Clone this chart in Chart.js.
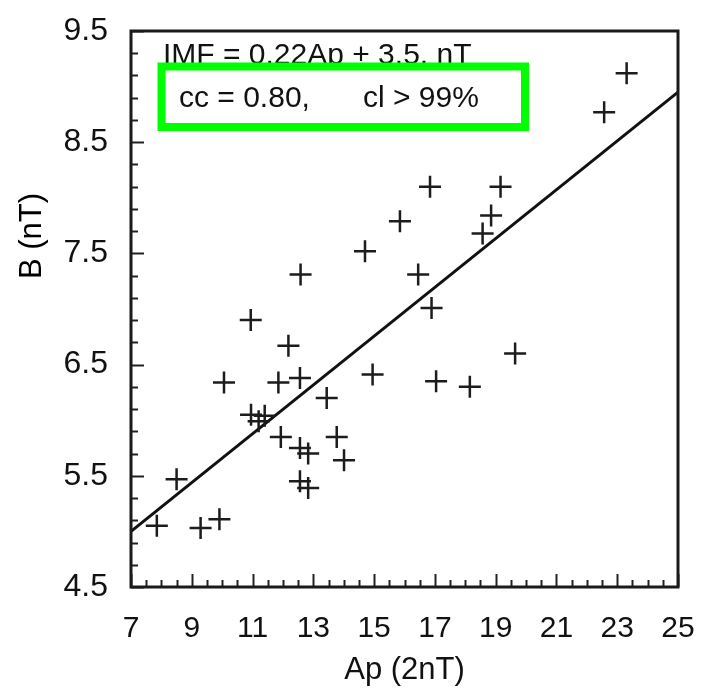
<!DOCTYPE html>
<html>
<head>
<meta charset="utf-8">
<script src="https://cdn.jsdelivr.net/npm/chart.js@4.4.1/dist/chart.umd.min.js"></script>
<style>
  body { margin: 0; background: #fff; }
  #wrap { width: 702px; height: 693px; }
</style>
</head>
<body>
<div id="wrap"><canvas id="chart" width="702" height="693"></canvas></div>
<script>
// Ap (2nT) vs B (nT) scatter values
const apValues = [7.85, 8.5, 9.29, 9.91, 10.06, 10.94, 10.95, 11.4, 11.2, 11.85, 11.93, 12.18,
  12.56, 12.58, 12.56, 12.83, 12.56, 12.83, 13.44, 13.77, 14.01, 14.7, 14.95, 15.85,
  16.45, 16.84, 16.89, 17.04, 18.15, 18.57, 18.85, 19.16, 19.64, 22.57, 23.31];
const bValues = [5.05, 5.47, 5.03, 5.11, 6.34, 6.9, 6.05, 6.04, 5.99, 6.34, 5.85, 6.67,
  6.38, 7.31, 5.75, 5.7, 5.45, 5.39, 6.2, 5.85, 5.64, 7.52, 6.41, 7.79,
  7.31, 8.1, 7.01, 6.35, 6.3, 7.68, 7.84, 8.1, 6.6, 8.77, 9.12];

// fit line end points
const fitAp = [7, 25];
const fitB = [5.0, 8.95];

const xTicks = [7, 9, 11, 13, 15, 17, 19, 21, 23, 25];
const yTicks = [4.5, 5.5, 6.5, 7.5, 8.5, 9.5];

const FONT = "'Liberation Sans', Arial, Helvetica, sans-serif";

const points = apValues.map((x, i) => ({ x: x, y: bValues[i] }));
const fitLine = fitAp.map((x, i) => ({ x: x, y: fitB[i] }));

// frame, inner minor ticks, y title and the text box
const decor = {
  id: "decor",
  afterDraw(chart) {
    const c = chart.ctx;
    const a = chart.chartArea;
    const xs = chart.scales.x, ys = chart.scales.y;
    c.save();
    c.strokeStyle = "#222";
    c.lineWidth = 2;
    // x ticks every 0.5, long ones on labelled values
    for (let v = xs.min; v <= xs.max + 1e-9; v += 0.5) {
      const px = Math.round(xs.getPixelForValue(v)) + 0.5;
      const major = xTicks.includes(v);
      c.beginPath();
      c.moveTo(px, a.bottom);
      c.lineTo(px, a.bottom - (major ? 13 : 7));
      c.stroke();
    }
    // y ticks every 0.2
    for (let k = 0; ys.min + k * 0.2 <= ys.max + 1e-9; k++) {
      const v = ys.min + k * 0.2;
      const py = Math.round(ys.getPixelForValue(v)) + 0.5;
      const major = Math.abs((v - ys.min) - Math.round(v - ys.min)) < 1e-6;
      c.beginPath();
      c.moveTo(a.left, py);
      c.lineTo(a.left + (major ? 13 : 7), py);
      c.stroke();
    }
    // frame
    c.lineWidth = 3;
    c.strokeStyle = "#1a1a1a";
    c.strokeRect(a.left, a.top, a.right - a.left, a.bottom - a.top);

    // y axis title
    c.fillStyle = "#000";
    c.font = "31px " + FONT;
    c.textAlign = "center";
    c.textBaseline = "middle";
    c.translate(32, 236);
    c.rotate(-Math.PI / 2);
    c.fillText("B (nT)", 0, 0);
    c.restore();

    c.save();
    c.fillStyle = "#111";
    c.font = "30px " + FONT;
    c.textAlign = "left";
    c.textBaseline = "alphabetic";
    c.fillText("IMF = 0.22Ap + 3.5, nT", 163, 64);
    c.fillText("cc = 0.80,", 179, 107);
    c.fillText("cl > 99%", 363, 107);
    c.strokeStyle = "#00ff00";
    c.lineWidth = 8;
    c.strokeRect(161.5, 66.5, 363.5, 60.5);
    c.restore();
  }
};

new Chart(document.getElementById("chart"), {
  type: "scatter",
  data: {
    datasets: [
      {
        data: points,
        pointStyle: "cross",
        pointRadius: 11,
        pointBorderWidth: 2.5,
        borderColor: "#1c1c1c",
        backgroundColor: "#1c1c1c",
        showLine: false
      },
      {
        data: fitLine,
        showLine: true,
        borderColor: "#111",
        borderWidth: 3,
        pointRadius: 0
      }
    ]
  },
  options: {
    responsive: false,
    animation: false,
    layout: { padding: { left: 0, right: 24, top: 31, bottom: 0 } },
    plugins: { legend: { display: false }, tooltip: { enabled: false } },
    scales: {
      x: {
        type: "linear",
        min: 7,
        max: 25,
        afterBuildTicks: s => { s.ticks = xTicks.map(v => ({ value: v })); },
        afterFit: s => { s.height = 106; },
        grid: { display: false, drawTicks: true, tickLength: 24 },
        border: { display: false },
        ticks: { color: "#111", font: { size: 30, family: FONT }, padding: 0, maxRotation: 0, autoSkip: false },
        title: { display: true, text: "Ap (2nT)", color: "#111", font: { size: 31, family: FONT }, padding: { top: 0 } }
      },
      y: {
        type: "linear",
        min: 4.5,
        max: 9.5,
        afterBuildTicks: s => { s.ticks = yTicks.map(v => ({ value: v })); },
        afterFit: s => { s.width = 131; },
        grid: { display: false, drawTicks: true, tickLength: 23 },
        border: { display: false },
        ticks: { color: "#111", font: { size: 32, family: FONT }, padding: 0, autoSkip: false,
          callback: v => v.toFixed(1) }
      }
    }
  },
  plugins: [decor]
});
</script>
</body>
</html>
